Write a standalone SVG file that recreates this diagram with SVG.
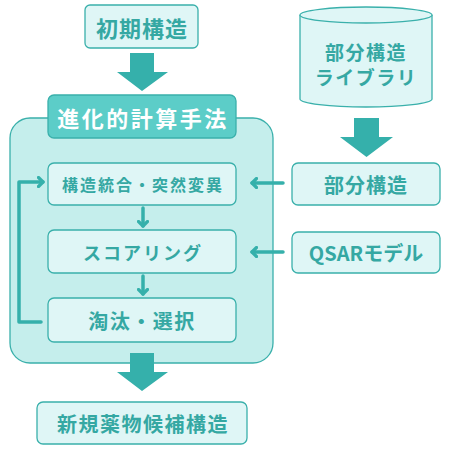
<svg xmlns="http://www.w3.org/2000/svg" width="450" height="450" viewBox="0 0 450 450">
<defs>
<style>
.box{fill:#dff6f6;stroke:#3ab0ab;stroke-width:1.3}
.t{font-family:"Noto Sans CJK JP","Noto Sans",sans-serif;font-weight:bold;fill:#35a8a3;text-anchor:middle;dominant-baseline:central}
.big{fill:#35b0ab}
.ln{fill:none;stroke:#35b0ab;stroke-width:3.5;stroke-linecap:round;stroke-linejoin:round}
</style>
<marker id="ah" markerWidth="10" markerHeight="12" refX="6" refY="6" orient="auto" markerUnits="userSpaceOnUse">
<path d="M1.5,1.5 L6,6 L1.5,10.5" fill="none" stroke="#35b0ab" stroke-width="3.2" stroke-linecap="round" stroke-linejoin="round"/>
</marker>
</defs>
<rect width="450" height="450" fill="#ffffff"/>
<g id="container">
<rect x="10" y="118" width="263" height="245" rx="20" fill="#c5eeec" stroke="#3ab0ab" stroke-width="1.3"/>
</g>
<g id="connectors">
<path class="big" d="M130,53 H154 V72 H168 L142,91 L117,72 H130 Z"/>
<path class="big" d="M354,118 H379 V137 H393 L366.5,157 L340,137 H354 Z"/>
<path class="big" d="M130,353 H154 V372 H168 L142,391 L117,372 H130 Z"/>
<path class="ln" d="M143,208 V226" marker-end="url(#ah)"/>
<path class="ln" d="M143,276 V294" marker-end="url(#ah)"/>
<path class="ln" d="M41,322 H19 V182 H43" marker-end="url(#ah)"/>
<path class="ln" d="M283,183 H252" marker-end="url(#ah)"/>
<path class="ln" d="M283,252 H252" marker-end="url(#ah)"/>
</g>
<g id="initial">
<rect class="box" x="85" y="5" width="113" height="43" rx="5"/>
<text class="t" x="142" y="26.5" font-size="22" letter-spacing="1">初期構造</text>
</g>
<g id="title">
<rect x="48" y="95" width="188" height="43" rx="6" fill="#5ccdc8" stroke="#3ab0ab" stroke-width="1.3"/>
<text class="t" x="143" y="116.5" font-size="22" letter-spacing="2.5" style="fill:#ffffff">進化的計算手法</text>
</g>
<g id="library">
<path d="M300,15 V99 A66,8 0 0 0 432,99 V15" class="box"/>
<ellipse cx="366" cy="15" rx="66" ry="8" class="box"/>
<text class="t" x="366" y="51.5" font-size="19" letter-spacing="1.5">部分構造</text>
<text class="t" x="366" y="76.5" font-size="19" letter-spacing="1.5">ライブラリ</text>
</g>
<g id="crossover">
<rect class="box" x="48" y="163" width="188" height="42" rx="6"/>
<text class="t" x="143" y="184" font-size="16" letter-spacing="2">構造統合・突然変異</text>
</g>
<g id="scoring">
<rect class="box" x="48" y="230" width="188" height="43" rx="6"/>
<text class="t" x="143" y="251.5" font-size="18" letter-spacing="2">スコアリング</text>
</g>
<g id="selection">
<rect class="box" x="48" y="298" width="188" height="44" rx="6"/>
<text class="t" x="142" y="320" font-size="20" letter-spacing="1.5">淘汰・選択</text>
</g>
<g id="fragments">
<rect class="box" x="292" y="163" width="148" height="42" rx="6"/>
<text class="t" x="366" y="184" font-size="20" letter-spacing="1">部分構造</text>
</g>
<g id="qsar">
<rect class="box" x="292" y="232" width="148" height="41" rx="6"/>
<text class="t" x="366" y="252.5" font-size="20">QSARモデル</text>
</g>
<g id="result">
<rect class="box" x="37" y="402" width="210" height="42" rx="6"/>
<text class="t" x="143" y="423" font-size="20" letter-spacing="1.5">新規薬物候補構造</text>
</g>
</svg>
